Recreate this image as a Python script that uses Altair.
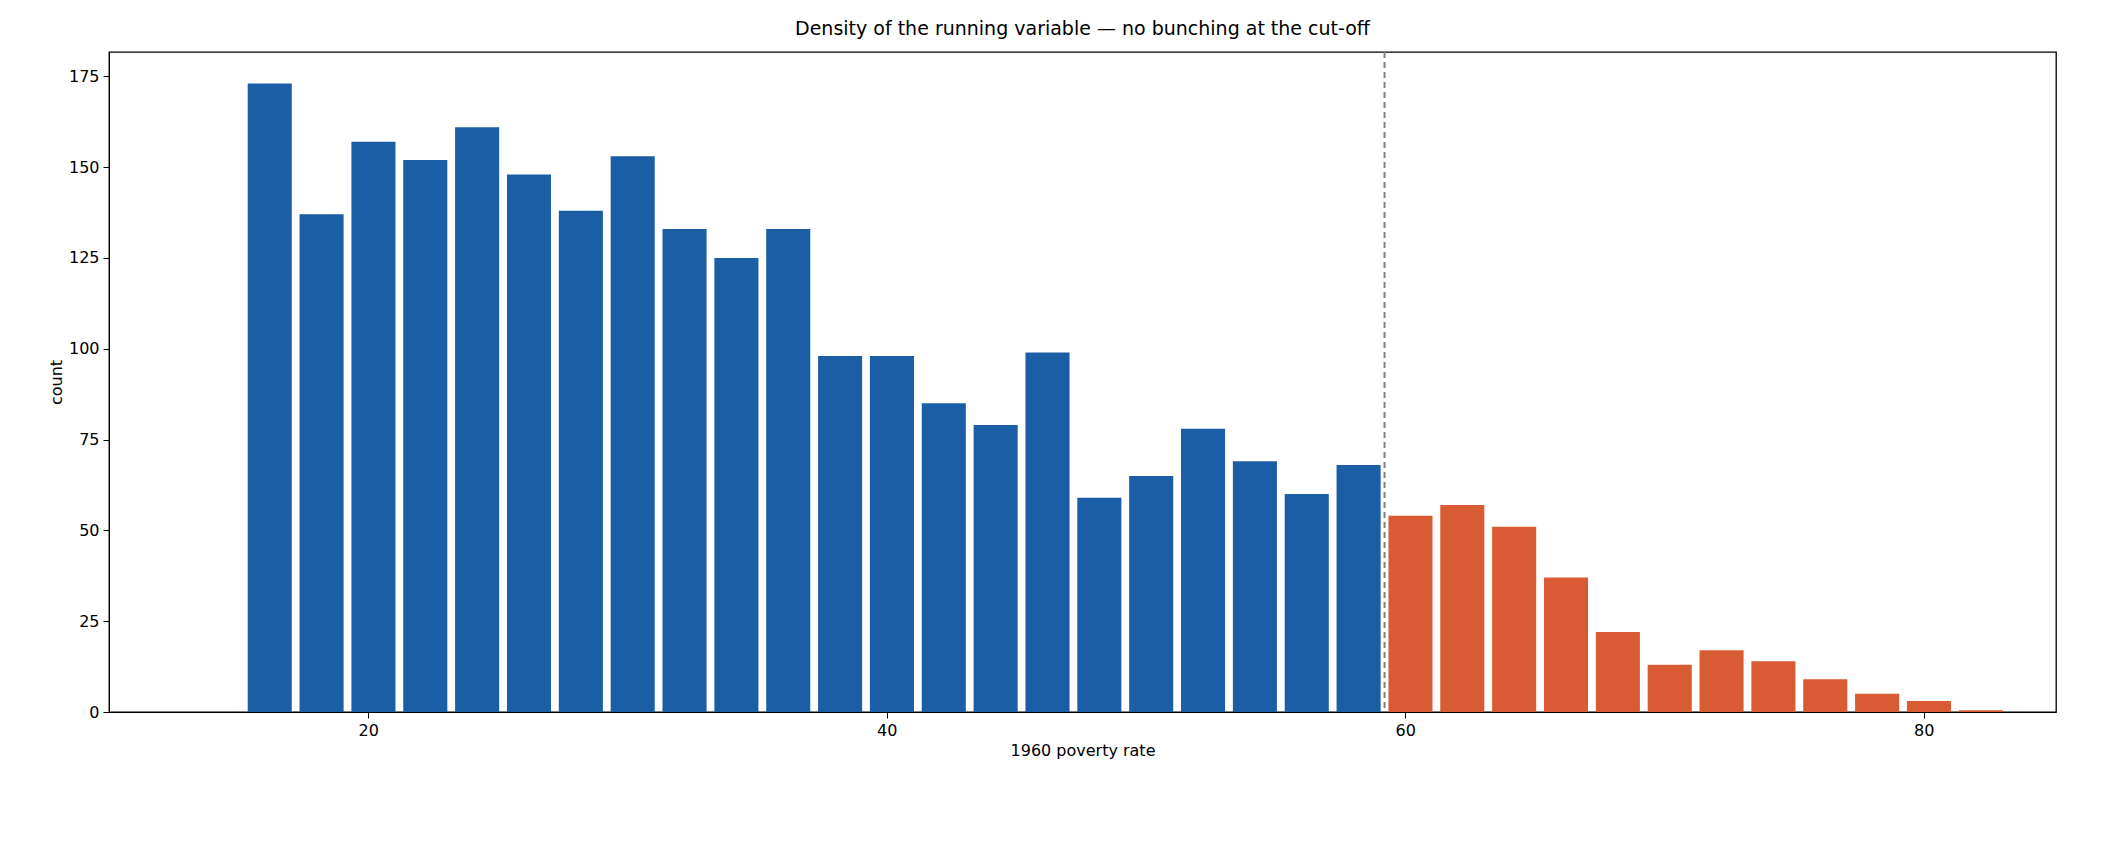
import pandas as pd
import altair as alt

# histogram bins (width 2), left edges
bin_left = [15.2, 17.2, 19.2, 21.2, 23.2, 25.2, 27.2, 29.2, 31.2, 33.2, 35.2, 37.2,
            39.2, 41.2, 43.2, 45.2, 47.2, 49.2, 51.2, 53.2, 55.2, 57.2,
            59.2, 61.2, 63.2, 65.2, 67.2, 69.2, 71.2, 73.2, 75.2, 77.2, 79.2, 81.2]
counts = [173, 137, 157, 152, 161, 148, 138, 153, 133, 125, 133, 98,
          98, 85, 79, 99, 59, 65, 78, 69, 60, 68,
          54, 57, 51, 37, 22, 13, 17, 14, 9, 5, 3, 0.5]
cutoff = 59.2

df = pd.DataFrame({"left": bin_left, "count": counts})
df["x0"] = df["left"] + 0.15
df["x1"] = df["left"] + 1.85
df["side"] = ["below" if l < cutoff else "above" for l in df["left"]]

xs = alt.Scale(domain=[10, 85.1], nice=False, zero=False)
ys = alt.Scale(domain=[0, 181.7], nice=False)

bars = alt.Chart(df).mark_rect().encode(
    x=alt.X("x0:Q", scale=xs, title="1960 poverty rate",
            axis=alt.Axis(values=[20, 40, 60, 80], grid=False)),
    x2="x1:Q",
    y=alt.Y("count:Q", scale=ys, title="count",
            axis=alt.Axis(values=[0, 25, 50, 75, 100, 125, 150, 175], grid=False)),
    y2=alt.datum(0),
    color=alt.Color("side:N", scale=alt.Scale(domain=["below", "above"],
                                              range=["#1a5fa6", "#d95b33"]), legend=None),
)

line = alt.Chart(pd.DataFrame({"c": [cutoff]})).mark_rule(
    color="#808080", strokeDash=[6, 4], strokeWidth=2
).encode(x=alt.X("c:Q", scale=xs))

chart = (bars + line).properties(
    width=1947, height=660, background="white",
    padding={"left": 40, "top": 12, "right": 10, "bottom": 10},
    title=alt.TitleParams("Density of the running variable — no bunching at the cut-off",
                          fontSize=19, fontWeight="normal", font="DejaVu Sans", offset=12),
).configure_view(stroke="black", strokeWidth=1.3).configure_axis(
    labelFont="DejaVu Sans", titleFont="DejaVu Sans", labelFontSize=16, titleFontSize=16,
    titleFontWeight="normal", labelColor="black", titleColor="black",
    domainColor="black", tickColor="black", tickSize=6, labelPadding=4,
)

chart.save("out.html", embed_options={"renderer": "svg", "actions": False})
